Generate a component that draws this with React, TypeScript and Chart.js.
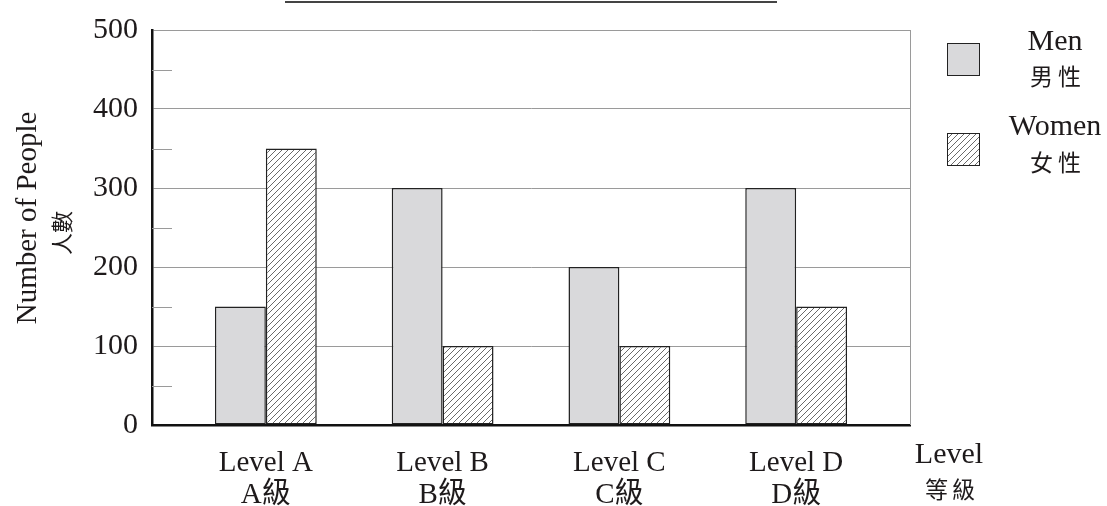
import React, { useEffect, useRef } from 'react';
import { Chart, registerables } from 'chart.js';

Chart.register(...registerables);

const categories = ['Level A', 'Level B', 'Level C', 'Level D'];
const categoriesZh = ['A級', 'B級', 'C級', 'D級'];
const seriesNames = ['Men', 'Women'];
const seriesNamesZh = ['男性', '女性'];
const menValues = [150, 300, 200, 300];
const womenValues = [350, 100, 100, 150];
const yMinorTicks = [50, 150, 250, 350, 450];
const yTitle = ['Number of People', '人數'];
const xTitle = ['Level', '等級'];

const FONT = '"Liberation Serif", "Times New Roman", "Noto Sans CJK TC", serif';
const TEXT = '#1e1a1b';

function makeHatch(): CanvasPattern | string {
  const c = document.createElement('canvas');
  c.width = 6;
  c.height = 6;
  const g = c.getContext('2d');
  if (!g) return '#ffffff';
  g.fillStyle = '#ffffff';
  g.fillRect(0, 0, 6, 6);
  g.strokeStyle = '#6a6a6a';
  g.lineWidth = 1;
  g.beginPath();
  g.moveTo(0, 6);
  g.lineTo(6, 0);
  g.moveTo(-1, 1);
  g.lineTo(1, -1);
  g.moveTo(5, 7);
  g.lineTo(7, 5);
  g.stroke();
  const p = g.createPattern(c, 'repeat');
  return p || '#ffffff';
}

export default function App() {
  const ref = useRef<HTMLCanvasElement>(null);

  useEffect(() => {
    if (!ref.current) return;
    const hatch = makeHatch();
    const menFill = '#d9d9db';
    const edge = '#222222';

    const extras = {
      id: 'extras',
      afterDraw(chart: any) {
        const ctx = chart.ctx as CanvasRenderingContext2D;
        const area = chart.chartArea;
        const y = chart.scales.y;
        ctx.save();
        // right border
        ctx.strokeStyle = '#9a9a9a';
        ctx.lineWidth = 1;
        ctx.beginPath();
        ctx.moveTo(area.right + 0.5, area.top);
        ctx.lineTo(area.right + 0.5, area.bottom);
        ctx.stroke();
        // minor ticks
        ctx.beginPath();
        for (const v of yMinorTicks) {
          const py = Math.round(y.getPixelForValue(v)) + 0.5;
          ctx.moveTo(area.left, py);
          ctx.lineTo(area.left + 20, py);
        }
        ctx.stroke();
        // top line
        ctx.strokeStyle = '#444';
        ctx.lineWidth = 2;
        ctx.beginPath();
        ctx.moveTo(285, 2);
        ctx.lineTo(777, 2);
        ctx.stroke();

        ctx.fillStyle = TEXT;
        ctx.textAlign = 'center';
        ctx.textBaseline = 'middle';
        // y title
        ctx.save();
        ctx.translate(28, 218);
        ctx.rotate(-Math.PI / 2);
        ctx.font = `29px ${FONT}`;
        ctx.fillText(yTitle[0], 0, 0);
        ctx.restore();
        ctx.save();
        ctx.translate(64, 233);
        ctx.rotate(-Math.PI / 2);
        ctx.font = `22px ${FONT}`;
        ctx.fillText(yTitle[1], 0, 0);
        ctx.restore();

        // x title
        ctx.font = `30px ${FONT}`;
        ctx.fillText(xTitle[0], 949, 455);
        ctx.font = `23px ${FONT}`;
        (ctx as any).letterSpacing = '4px';
        ctx.fillText(xTitle[1], 952, 492);
        (ctx as any).letterSpacing = '0px';

        // legend
        const boxes = [
          { y: 43, fill: menFill },
          { y: 133, fill: hatch },
        ];
        const nameY = [42, 127];
        const zhY = [79, 165];
        boxes.forEach((b, i) => {
          ctx.fillStyle = b.fill as any;
          ctx.fillRect(947, b.y, 32, 32);
          ctx.strokeStyle = edge;
          ctx.lineWidth = 1;
          ctx.strokeRect(947.5, b.y + 0.5, 32, 32);
          ctx.fillStyle = TEXT;
          ctx.font = `30px ${FONT}`;
          ctx.fillText(seriesNames[i], 1055, nameY[i]);
          ctx.font = `23px ${FONT}`;
          (ctx as any).letterSpacing = '5px';
          ctx.fillText(seriesNamesZh[i], 1058, zhY[i]);
          (ctx as any).letterSpacing = '0px';
        });
        ctx.restore();
      },
    };

    const chart = new Chart(ref.current, {
      type: 'bar',
      data: {
        datasets: [
          {
            label: seriesNames[0],
            data: menValues.map((v, i) => ({ x: i, y: v })),
            backgroundColor: menFill,
            borderColor: edge,
            borderWidth: 1.5,
            borderSkipped: false,
            categoryPercentage: 0.576,
            barPercentage: 1,
          },
          {
            label: seriesNames[1],
            data: womenValues.map((v, i) => ({ x: i, y: v })),
            backgroundColor: hatch as any,
            borderColor: edge,
            borderWidth: 1.5,
            borderSkipped: false,
            categoryPercentage: 0.576,
            barPercentage: 1,
          },
        ],
      },
      options: {
        responsive: false,
        animation: false,
        layout: { padding: { top: 30, right: 197, left: 0, bottom: 0 } },
        plugins: {
          legend: { display: false },
          tooltip: { enabled: false },
          title: { display: false },
        },
        scales: {
          x: {
            type: 'linear',
            offset: false,
            min: -0.644,
            max: 3.644,
            afterBuildTicks: (s: any) => {
              s.ticks = categories.map((_, i) => ({ value: i }));
            },
            afterFit: (s: any) => {
              s.height = 81;
              s.paddingLeft = 0;
              s.paddingRight = 0;
            },
            grid: { display: false, drawTicks: false, offset: false },
            border: { color: '#111', width: 2.5 },
            ticks: {
              autoSkip: false,
              maxRotation: 0,
              padding: 23,
              color: TEXT,
              font: { family: FONT, size: 29, lineHeight: 1.08 },
              callback: (v: any) => [categories[Number(v)], categoriesZh[Number(v)]],
            },
          },
          y: {
            min: 0,
            max: 500,
            afterFit: (s: any) => {
              s.width = 152;
              s.paddingTop = 0;
              s.paddingBottom = 0;
            },
            grid: {
              drawTicks: false,
              lineWidth: 1,
              color: (c: any) =>
                c.tick && c.tick.value % 100 === 0 ? '#9a9a9a' : 'rgba(0,0,0,0)',
            },
            border: { color: '#111', width: 2.5 },
            ticks: {
              stepSize: 50,
              autoSkip: false,
              padding: 14,
              color: TEXT,
              font: { family: FONT, size: 30 },
              callback: (v: any) => (Number(v) % 100 === 0 ? String(v) : ''),
            },
          },
        },
      },
      plugins: [extras],
    } as any);

    return () => chart.destroy();
  }, []);

  return (
    <div style={{ position: 'absolute', left: 0, top: 0, width: 1107, height: 506, background: '#fff' }}>
      <canvas ref={ref} width={1107} height={506} />
    </div>
  );
}
